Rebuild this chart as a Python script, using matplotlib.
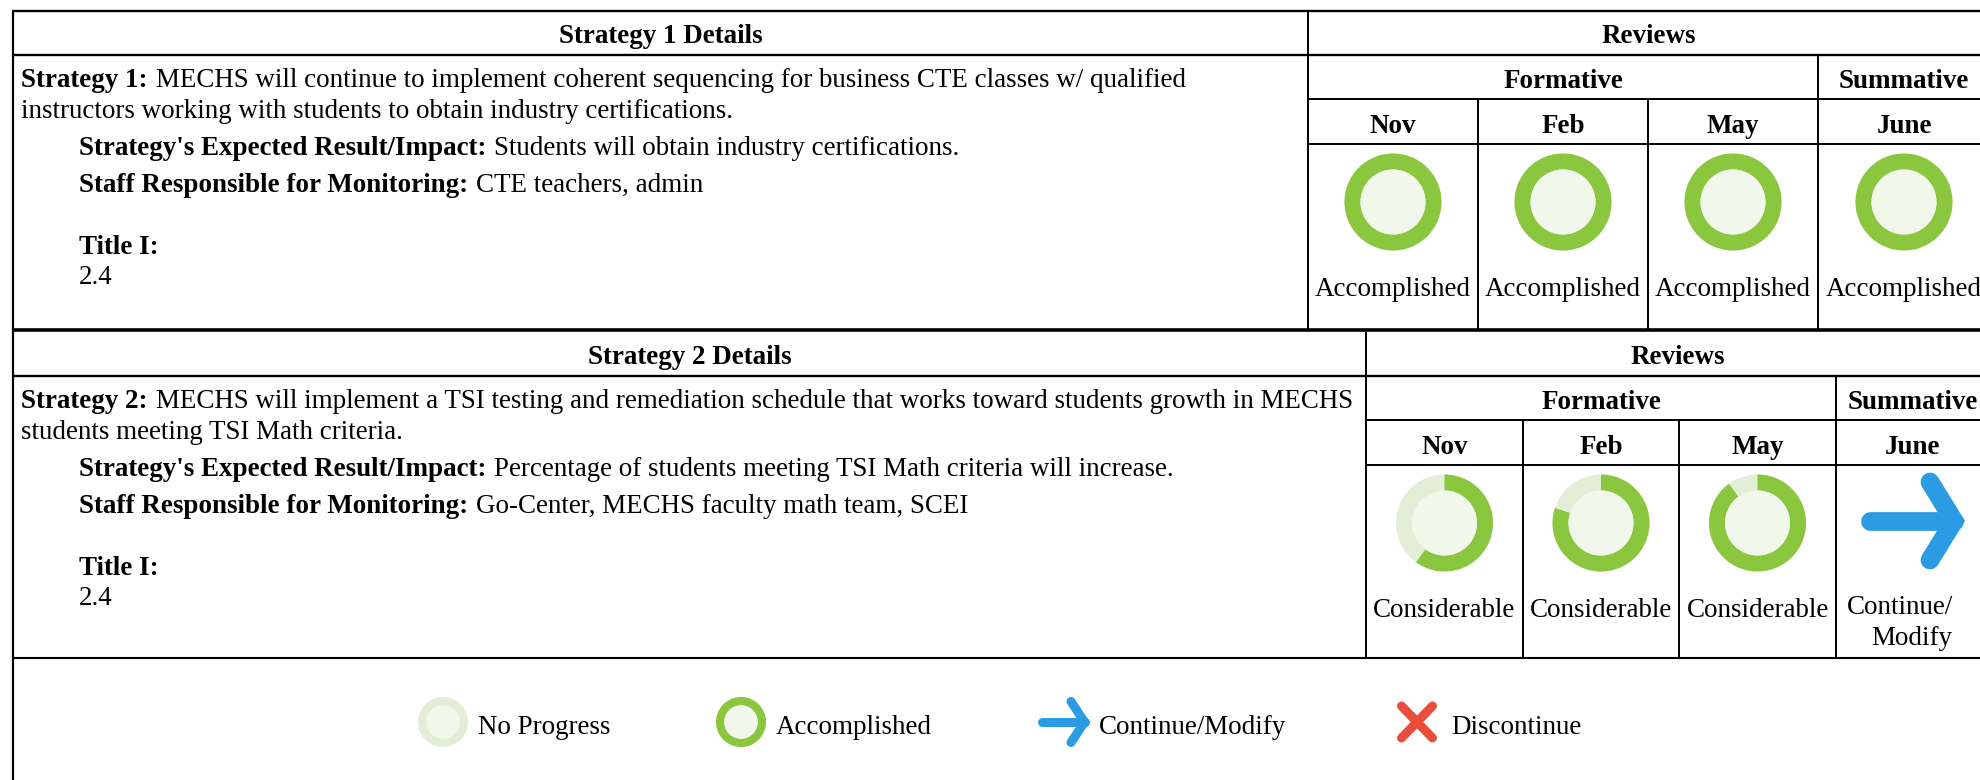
"""
Tabela de estratégias com revisões formativas e somativas.
"""

import matplotlib.pyplot as plt
from matplotlib.patches import Circle, Wedge

plt.rcParams["font.family"] = ["Liberation Serif", "DejaVu Serif"]

# dados
meses = ["Nov", "Feb", "May", "June"]
progresso_1 = [100, 100, 100, 100]
rotulos_1 = ["Accomplished", "Accomplished", "Accomplished", "Accomplished"]
progresso_2 = [60, 80, 90, None]
rotulos_2 = ["Considerable", "Considerable", "Considerable", None]

estrategia_1 = [
    ("Strategy 1:", "MECHS will continue to implement coherent sequencing for business CTE classes w/ qualified"),
    ("", "instructors working with students to obtain industry certifications."),
    ("Strategy's Expected Result/Impact:", "Students will obtain industry certifications."),
    ("Staff Responsible for Monitoring:", "CTE teachers, admin"),
    ("Title I:", ""),
    ("", "2.4"),
]
estrategia_2 = [
    ("Strategy 2:", "MECHS will implement a TSI testing and remediation schedule that works toward students growth in MECHS"),
    ("", "students meeting TSI Math criteria."),
    ("Strategy's Expected Result/Impact:", "Percentage of students meeting TSI Math criteria will increase."),
    ("Staff Responsible for Monitoring:", "Go-Center, MECHS faculty math team, SCEI"),
    ("Title I:", ""),
    ("", "2.4"),
]
legenda = ["No Progress", "Accomplished", "Continue/Modify", "Discontinue"]

VERDE = "#8BC63F"
VERDE_CLARO = "#E2EFD6"
VERDE_FUNDO = "#F1F7EA"
AZUL = "#2B9BE4"
VERMELHO = "#EA4E3A"
FONTE = 19.45
ESQ = 13
DIR = 1990

fig = plt.figure(figsize=(19.8, 7.8), dpi=100)
ax = fig.add_axes([0, 0, 1, 1])
ax.set_xlim(0, 1980)
ax.set_ylim(780, 0)
ax.axis("off")


def linha(x0, y0, x1, y1, lw=1.4):
    ax.plot([x0, x1], [y0, y1], color="black", lw=lw, solid_capstyle="butt", zorder=3)


def texto(x, y, s, bold=False, ha="left"):
    return ax.text(x, y, s, fontsize=FONTE, ha=ha, va="baseline", color="black",
                   fontweight="bold" if bold else "normal")


def anel(cx, cy, pct, r=48.5):
    esc = r / 48.5
    ax.add_patch(Circle((cx, cy), r, fc=VERDE_CLARO, ec="none"))
    # sentido horário a partir do topo (eixo y invertido)
    ax.add_patch(Wedge((cx, cy), r, -90, -90 + 3.6 * pct, width=16 * esc, fc=VERDE, ec="none"))
    ax.add_patch(Circle((cx, cy), 32.5 * esc, fc=VERDE_FUNDO, ec="none"))


def seta(cauda, ponta, base, cy, meia_alt, lw):
    ax.plot([cauda, ponta], [cy, cy], color=AZUL, lw=lw, solid_capstyle="round")
    ax.plot([base, ponta, base], [cy - meia_alt, cy, cy + meia_alt], color=AZUL, lw=lw,
            solid_capstyle="round", solid_joinstyle="miter")


def xis(cx, cy, larg, alt, lw):
    for sinal in (1, -1):
        ax.plot([cx - larg / 2, cx + larg / 2], [cy - sinal * alt / 2, cy + sinal * alt / 2],
                color=VERMELHO, lw=lw, solid_capstyle="round")


def bloco(topo, div, meio, col, titulo, linhas, progresso, rotulos):
    # y relativos ao topo do bloco
    y0, y1, y2, y3 = topo, topo + 44, topo + 88, topo + 133
    linha(ESQ, y1, DIR, y1, 1.7)
    linha(div, y2, DIR, y2)
    linha(div, y3, DIR, y3)
    linha(div, y0, div, meio)
    linha(col[3], y1, col[3], meio)
    linha(col[1], y2, col[1], meio)
    linha(col[2], y2, col[2], meio)

    bordas = [div, col[1], col[2], col[3], DIR]
    texto((ESQ + div) / 2, topo + 32, titulo, bold=True, ha="center")
    texto((div + DIR) / 2, topo + 32, "Reviews", bold=True, ha="center")
    texto((div + col[3]) / 2, topo + 77, "Formative", bold=True, ha="center")
    texto((col[3] + DIR) / 2, topo + 77, "Summative", bold=True, ha="center")

    centros = [(bordas[i] + bordas[i + 1]) / 2 for i in range(4)]
    for i, c in enumerate(centros):
        texto(c, topo + 122, meses[i], bold=True, ha="center")
        if progresso[i] is not None:
            anel(c, topo + 191, progresso[i])
            texto(c, topo + 285, rotulos[i], ha="center")

    baselines = [76, 107, 144, 181, 243, 273]
    recuos = [21, 21, 79, 79, 79, 79]
    renderer = fig.canvas.get_renderer()
    inv = ax.transData.inverted()
    for (negrito, normal), b, x in zip(linhas, baselines, recuos):
        px = x
        if negrito:
            t = texto(px, topo + b, negrito, bold=True)
            fim = t.get_window_extent(renderer).x1
            px = inv.transform((fim, 0))[0] + 8
        if normal:
            texto(px, topo + b, normal)


# estrutura externa
linha(ESQ - 1, 11, DIR, 11, 1.7)
linha(ESQ, 10, ESQ, 780, 1.6)

bloco(11, 1308, 330, [1308, 1478, 1648, 1818], "Strategy 1 Details",
      estrategia_1, progresso_1, rotulos_1)
linha(ESQ - 1, 330, DIR, 330, 2.6)
bloco(332, 1366, 658, [1366, 1523, 1679, 1836], "Strategy 2 Details",
      estrategia_2, progresso_2, rotulos_2)
linha(ESQ, 658, DIR, 658, 1.5)

# coluna June da estratégia 2
seta(1870, 1954, 1930, 521, 39, 13.5)
texto(1900, 614, "Continue/", ha="center")
texto(1912, 645, "Modify", ha="center")

# legenda
anel(443, 722, 0, r=25)
texto(478, 734, legenda[0])
anel(741, 722, 100, r=25)
texto(776, 734, legenda[1])
seta(1042, 1084.5, 1071, 722, 20.5, 6.5)
texto(1099, 734, legenda[2])
xis(1417, 722, 31, 32, 6.5)
texto(1451, 734, legenda[3])

fig.savefig("out.png", dpi=100)
plt.close(fig)
